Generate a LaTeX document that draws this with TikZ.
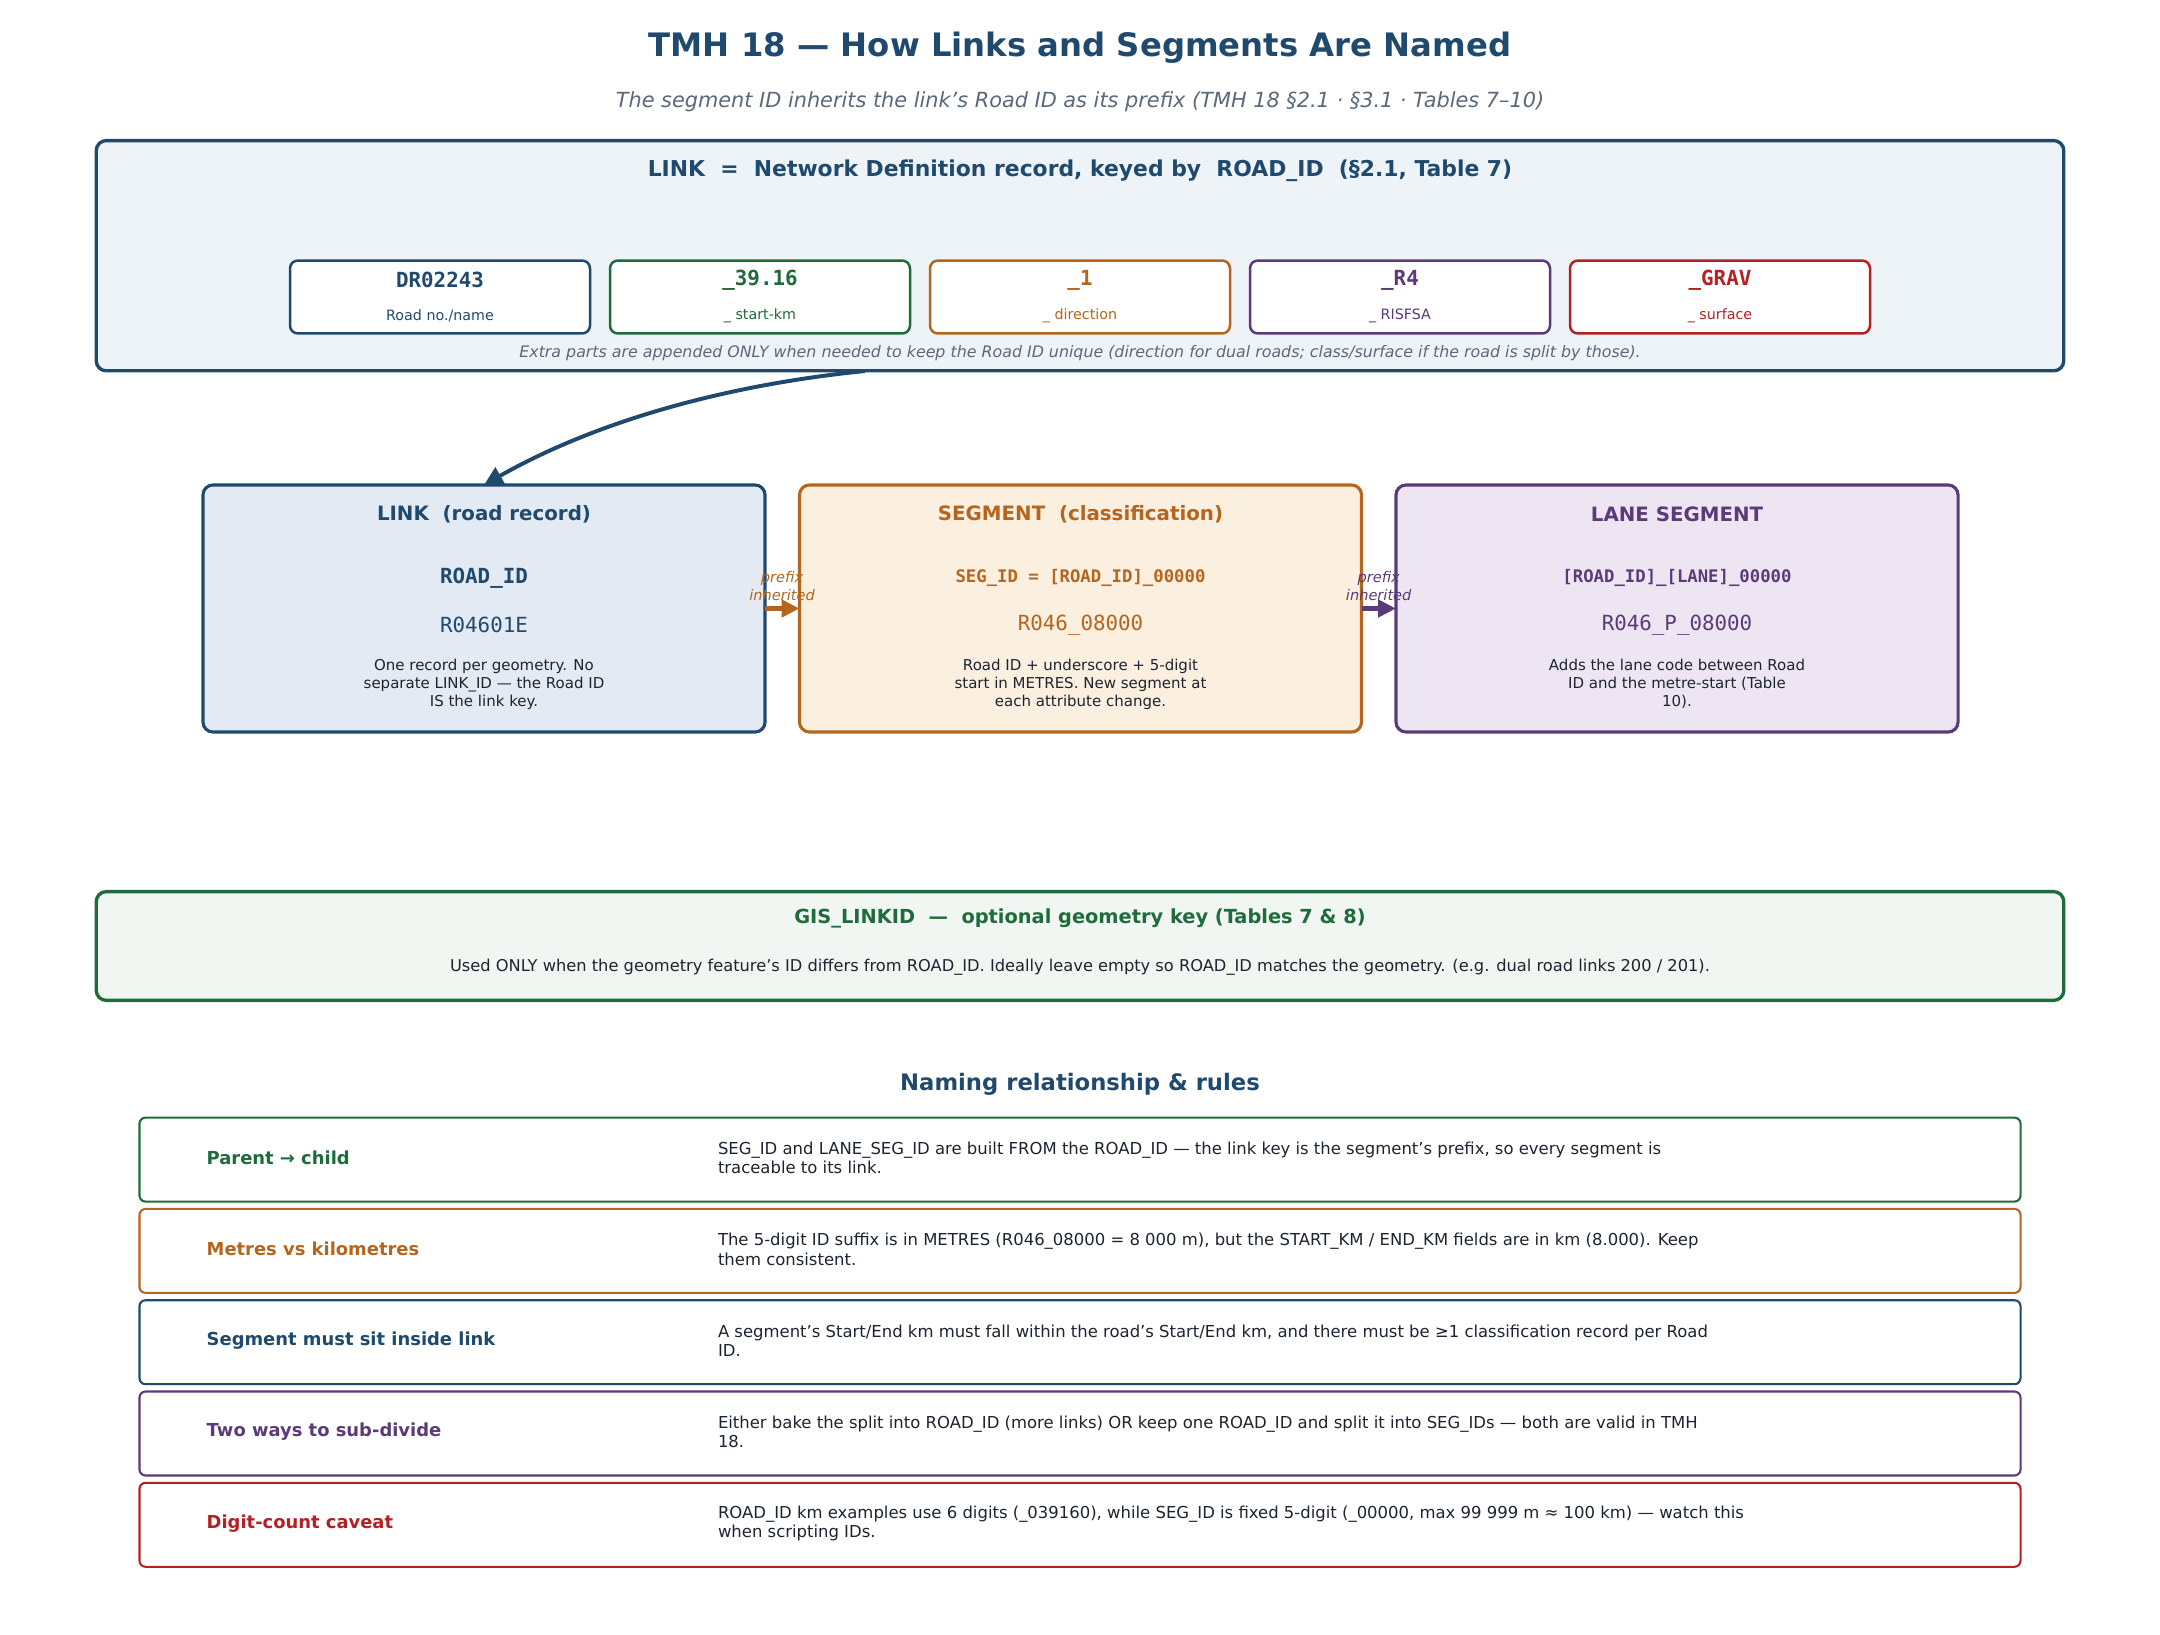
\documentclass[tikz,border=0pt]{standalone}
\usepackage{fontspec}
\setmainfont{DejaVu Sans}
\setmonofont{DejaVu Sans Mono}
\usetikzlibrary{arrows.meta}
\definecolor{cblue}{HTML}{1F4A6E}
\definecolor{cgreen}{HTML}{1E6B3C}
\definecolor{corange}{HTML}{B5651D}
\definecolor{cpurple}{HTML}{5B3A78}
\definecolor{cred}{HTML}{B22222}
\definecolor{cgrey}{HTML}{5A6878}
\definecolor{cdark}{HTML}{1C2430}
\definecolor{ftop}{HTML}{EEF3F8}
\definecolor{flink}{HTML}{E3EAF3}
\definecolor{fseg}{HTML}{FBEFDF}
\definecolor{flane}{HTML}{EDE6F2}
\definecolor{fgis}{HTML}{F1F6F2}
\newcommand\fsz[2]{\fontsize{#1}{#2}\selectfont}
\begin{document}
\begin{tikzpicture}[x=0.48pt,y=-0.48pt,
  every node/.style={inner sep=0pt,outer sep=0pt},
  bigbox/.style={draw=#1,line width=1.6pt,rounded corners=4.8pt},
  partbox/.style={draw=#1,fill=white,line width=1.2pt,rounded corners=3.8pt,minimum width=144pt,minimum height=35pt},
  mainbox/.style={draw=#1,line width=1.5pt,rounded corners=4.8pt,minimum width=269.8pt,minimum height=118.6pt},
  rulebox/.style={draw=#1,fill=white,line width=1pt,rounded corners=2.9pt,minimum width=902.9pt,minimum height=40.3pt},
  parttxt/.style={font=\fsz{10}{12}\ttfamily\bfseries,text=#1},
  partlbl/.style={font=\fsz{6.85}{8},text=#1},
  mtitle/.style={font=\fsz{9.5}{11.4}\bfseries,text=#1},
  mval/.style={font=\fsz{10}{12}\ttfamily,text=#1},
  mdesc/.style={font=\fsz{7.2}{8.6},text=cdark,align=center},
  pfx/.style={font=\fsz{7}{8.6}\itshape,text=#1,align=center},
  rlabel/.style={font=\fsz{8.6}{10}\bfseries,text=#1,anchor=west},
  rbody/.style={font=\fsz{7.9}{9.3},text=cdark,anchor=west,align=left},
  flowarrow/.style={draw=#1,line width=2.2pt,-{Triangle[length=8.6pt,width=8.2pt]},shorten >=0pt}
]
\useasboundingbox (0,0) rectangle (2160,1635);

% titles
\node[font=\fsz{15.5}{18.6}\bfseries,text=cblue] (title) at (1080,48) {TMH 18 — How Links and Segments Are Named};
\node[font=\fsz{10}{12}\itshape,text=cgrey] (subtitle) at (1080,101.5) {The segment ID inherits the link’s Road ID as its prefix (TMH 18 §2.1 · §3.1 · Tables 7–10)};

% top link definition box
\node[bigbox=cblue,fill=ftop,minimum width=944.4pt,minimum height=110.5pt] (topbox) at (1080,255.7) {};
\node[font=\fsz{10.5}{12.6}\bfseries,text=cblue] (tophead) at (1080,170.5) {LINK~ =~ Network Definition record, keyed by~ ROAD\_ID~ (§2.1, Table 7)};

\node[partbox=cblue] (p1) at (440,297) {};
\node[partbox=cgreen] (p2) at (760,297) {};
\node[partbox=corange] (p3) at (1080,297) {};
\node[partbox=cpurple] (p4) at (1400,297) {};
\node[partbox=cred] (p5) at (1720,297) {};

\node[parttxt=cblue] (p1t) at (440,280) {DR02243};
\node[parttxt=cgreen] (p2t) at (760,280) {\_39.16};
\node[parttxt=corange] (p3t) at (1080,280) {\_1};
\node[parttxt=cpurple] (p4t) at (1400,280) {\_R4};
\node[parttxt=cred] (p5t) at (1720,280) {\_GRAV};

\node[partlbl=cblue] (p1l) at (440,316) {Road no./name};
\node[partlbl=cgreen] (p2l) at (760,316) {\_ start-km};
\node[partlbl=corange] (p3l) at (1080,316) {\_ direction};
\node[partlbl=cpurple] (p4l) at (1400,316) {\_ RISFSA};
\node[partlbl=cred] (p5l) at (1720,316) {\_ surface};

\node[font=\fsz{7.6}{9.1}\itshape,text=cgrey] (topnote) at (1080,353) {Extra parts are appended ONLY when needed to keep the Road ID unique (direction for dual roads; class/surface if the road is split by those).};

% main boxes
\node[mainbox=cblue,fill=flink] (linkbox) at (484,608.5) {};
\node[mainbox=corange,fill=fseg] (segbox) at (1080.5,608.5) {};
\node[mainbox=cpurple,fill=flane] (lanebox) at (1677,608.5) {};

\node[mtitle=cblue] (lt) at (484,514) {LINK~ (road record)};
\node[font=\fsz{10}{12}\ttfamily\bfseries,text=cblue] (lid) at (484,578) {ROAD\_ID};
\node[mval=cblue] (lv) at (484,625) {R04601E};
\node[mdesc] (ld) at (484,684) {One record per geometry. No\\separate LINK\_ID — the Road ID\\IS the link key.};

\node[mtitle=corange] (st) at (1080.5,514) {SEGMENT~ (classification)};
\node[font=\fsz{8.3}{10}\ttfamily\bfseries,text=corange] (sid) at (1080.5,578) {SEG\_ID = [ROAD\_ID]\_00000};
\node[mval=corange] (sv) at (1080.5,625) {R046\_08000};
\node[mdesc] (sd) at (1080.5,684) {Road ID + underscore + 5-digit\\start in METRES. New segment at\\each attribute change.};

\node[mtitle=cpurple] (lnt) at (1677,514) {LANE SEGMENT};
\node[font=\fsz{8.3}{10}\ttfamily\bfseries,text=cpurple] (lnid) at (1677,578) {[ROAD\_ID]\_[LANE]\_00000};
\node[mval=cpurple] (lnv) at (1677,625) {R046\_P\_08000};
\node[mdesc] (lnd) at (1677,684) {Adds the lane code between Road\\ID and the metre-start (Table\\10).};

% connectors
\draw[flowarrow=corange] (linkbox.east) -- (segbox.west);
\draw[flowarrow=cpurple] (segbox.east) -- (lanebox.west);
\node[pfx=corange] (pf1) at (782,586) {prefix\\inherited};
\node[pfx=cpurple] (pf2) at (1378.7,586) {prefix\\inherited};

\coordinate (cstart) at (865,371);
\draw[cblue,line width=1.9pt,-{Triangle[length=9pt,width=9pt]}] (cstart) .. controls (719,385.7) and (591.7,423.7) .. (linkbox.north);

% GIS box
\node[bigbox=cgreen,fill=fgis,minimum width=944.4pt,minimum height=52.2pt] (gisbox) at (1080,946) {};
\node[font=\fsz{9.3}{11.2}\bfseries,text=cgreen] (gist) at (1080,918) {GIS\_LINKID~ —~ optional geometry key (Tables 7 \& 8)};
\node[font=\fsz{7.8}{9.3},text=cdark] (gisb) at (1080,967) {Used ONLY when the geometry feature’s ID differs from ROAD\_ID. Ideally leave empty so ROAD\_ID matches the geometry. (e.g. dual road links 200 / 201).};

% rules
\node[font=\fsz{10.9}{13}\bfseries,text=cblue] (rhead) at (1080,1084) {Naming relationship \& rules};

\node[rulebox=cgreen] (r1) at (1080,1159.6) {};
\node[rulebox=corange] (r2) at (1080,1250.9) {};
\node[rulebox=cblue] (r3) at (1080,1342.2) {};
\node[rulebox=cpurple] (r4) at (1080,1433.5) {};
\node[rulebox=cred] (r5) at (1080,1524.8) {};

\node[rlabel=cgreen] (r1l) at (206.7,1158) {Parent → child};
\node[rlabel=corange] (r2l) at (206.7,1249.3) {Metres vs kilometres};
\node[rlabel=cblue] (r3l) at (206.7,1340.6) {Segment must sit inside link};
\node[rlabel=cpurple] (r4l) at (206.7,1431.9) {Two ways to sub-divide};
\node[rlabel=cred] (r5l) at (206.7,1523.2) {Digit-count caveat};

\node[rbody] (r1b) at (718,1158) {SEG\_ID and LANE\_SEG\_ID are built FROM the ROAD\_ID — the link key is the segment’s prefix, so every segment is\\traceable to its link.};
\node[rbody] (r2b) at (718,1249.3) {The 5-digit ID suffix is in METRES (R046\_08000 = 8 000 m), but the START\_KM / END\_KM fields are in km (8.000). Keep\\them consistent.};
\node[rbody] (r3b) at (718,1340.6) {A segment’s Start/End km must fall within the road’s Start/End km, and there must be ≥1 classification record per Road\\ID.};
\node[rbody] (r4b) at (718,1431.9) {Either bake the split into ROAD\_ID (more links) OR keep one ROAD\_ID and split it into SEG\_IDs — both are valid in TMH\\18.};
\node[rbody] (r5b) at (718,1523.2) {ROAD\_ID km examples use 6 digits (\_039160), while SEG\_ID is fixed 5-digit (\_00000, max 99 999 m ≈ 100 km) — watch this\\when scripting IDs.};
\end{tikzpicture}
\end{document}
